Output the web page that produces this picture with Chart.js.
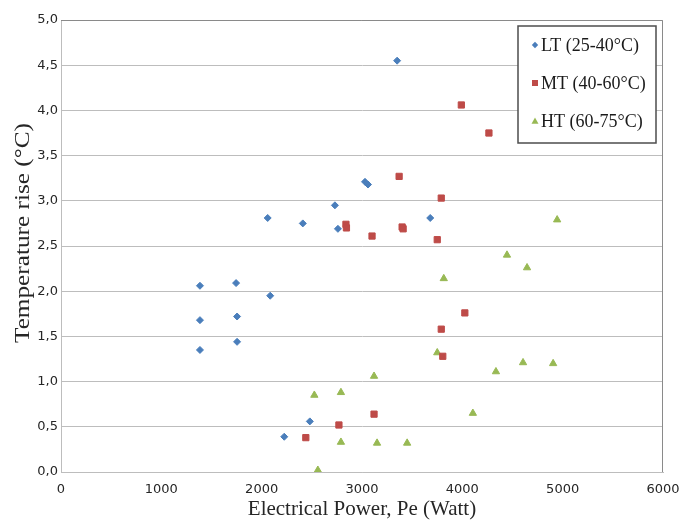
<!DOCTYPE html>
<html lang="en">

<head>
    <meta charset="UTF-8">
    <title>Temperature rise vs electrical power</title>
    <script src="https://cdn.jsdelivr.net/npm/chart.js@4.4.0/dist/chart.umd.min.js"></script>
    <style>
        html, body { margin: 0; padding: 0; background: #ffffff; }
        #wrap { width: 684px; height: 522px; }
    </style>
</head>

<body>
    <div id="wrap">
        <canvas id="tempChart" width="684" height="522"></canvas>
    </div>
    <script>
    // series values
    var ltPower = [3350, 3030, 3060, 2730, 2060, 2410, 2760, 3680, 1385, 1745, 2085, 1385, 1755, 1755, 1385, 2480, 2225];
    var ltRise  = [4.55, 3.21, 3.18, 2.95, 2.81, 2.75, 2.69, 2.81, 2.06, 2.09, 1.95, 1.68, 1.72, 1.44, 1.35, 0.56, 0.39];

    var mtPower = [3990, 4265, 3370, 3790, 2840, 2845, 3100, 3400, 3410, 3750, 4025, 3790, 3805, 3120, 2770, 2440];
    var mtRise  = [4.06, 3.75, 3.27, 3.03, 2.74, 2.70, 2.61, 2.71, 2.69, 2.57, 1.76, 1.58, 1.28, 0.64, 0.52, 0.38];

    var htPower = [4945, 4445, 4645, 3815, 3750, 4605, 4905, 4335, 3120, 2525, 2790, 4105, 2790, 3150, 3450, 2560];
    var htRise  = [2.79, 2.40, 2.26, 2.14, 1.32, 1.21, 1.20, 1.11, 1.06, 0.85, 0.88, 0.65, 0.33, 0.32, 0.32, 0.02];

    var seriesLabels = ["LT (25-40°C)", "MT (40-60°C)", "HT (60-75°C)"];
    var xTicks = [0, 1000, 2000, 3000, 4000, 5000, 6000];
    var yTicks = [0, 0.5, 1, 1.5, 2, 2.5, 3, 3.5, 4, 4.5, 5];
    var yTitle = 'Temperature rise (°C)';

    function toPoints(xs, ys) {
        return xs.map(function (x, i) { return { x: x, y: ys[i] }; });
    }

    var blue = '#4a7ebb';
    var red = '#be4b48';
    var green = '#98b954';
    var serif = '"Liberation Serif", "Times New Roman", serif';

    // legend drawn inside the plot, like the original; also plot border and y title
    var boxLegend = {
        id: 'boxLegend',
        afterDraw: function (chart) {
            var ctx = chart.ctx;
            var area = chart.chartArea;
            ctx.save();
            // plot border (top and right)
            ctx.strokeStyle = '#8a8a8a';
            ctx.lineWidth = 1;
            ctx.beginPath();
            ctx.moveTo(area.left, area.top + 0.5);
            ctx.lineTo(area.right - 0.5, area.top + 0.5);
            ctx.lineTo(area.right - 0.5, area.bottom);
            ctx.stroke();

            // y axis title, a bit stretched and sitting above centre as in the original
            ctx.save();
            ctx.font = '22px ' + serif;
            ctx.fillStyle = '#262626';
            ctx.textAlign = 'center';
            ctx.textBaseline = 'middle';
            var w = ctx.measureText(yTitle).width;
            ctx.translate(23, 233);
            ctx.rotate(-Math.PI / 2);
            ctx.scale(220 / w, 1);
            ctx.fillText(yTitle, 0, 0);
            ctx.restore();

            var bx = 518, by = 26, bw = 138, bh = 117;
            ctx.fillStyle = '#ffffff';
            ctx.fillRect(bx, by, bw, bh);
            ctx.strokeStyle = '#4d4d4d';
            ctx.lineWidth = 1.5;
            ctx.strokeRect(bx, by, bw, bh);

            var rows = [45, 83, 121];
            ctx.font = '18px ' + serif;
            ctx.textBaseline = 'middle';
            ctx.textAlign = 'left';
            chart.data.datasets.forEach(function (ds, i) {
                var mx = 535, my = rows[i];
                ctx.fillStyle = ds.backgroundColor;
                ctx.beginPath();
                if (ds.pointStyle === 'rectRot') {
                    ctx.moveTo(mx, my - 3.2);
                    ctx.lineTo(mx + 3.2, my);
                    ctx.lineTo(mx, my + 3.2);
                    ctx.lineTo(mx - 3.2, my);
                } else if (ds.pointStyle === 'rect') {
                    ctx.rect(mx - 3, my - 3, 6, 6);
                } else {
                    ctx.moveTo(mx, my - 3.5);
                    ctx.lineTo(mx + 3.5, my + 2.8);
                    ctx.lineTo(mx - 3.5, my + 2.8);
                }
                ctx.closePath();
                ctx.fill();
                ctx.fillStyle = '#1a1a1a';
                ctx.fillText(ds.label, 541, my + 1);
            });
            ctx.restore();
        }
    };

    var ctx = document.getElementById('tempChart').getContext('2d');
    var chart = new Chart(ctx, {
        type: 'scatter',
        data: {
            datasets: [{
                label: seriesLabels[0],
                data: toPoints(ltPower, ltRise),
                pointStyle: 'rectRot',
                backgroundColor: blue,
                borderColor: blue,
                borderWidth: 1,
                pointRadius: 3.5
            }, {
                label: seriesLabels[1],
                data: toPoints(mtPower, mtRise),
                pointStyle: 'rect',
                backgroundColor: red,
                borderColor: red,
                borderWidth: 1,
                pointRadius: 4.4
            }, {
                label: seriesLabels[2],
                data: toPoints(htPower, htRise),
                pointStyle: 'triangle',
                backgroundColor: green,
                borderColor: green,
                borderWidth: 1,
                pointRadius: 4.2
            }]
        },
        options: {
            responsive: false,
            animation: false,
            devicePixelRatio: 1,
            layout: {
                padding: { left: 0, right: 21, top: 20, bottom: 0 }
            },
            plugins: {
                legend: { display: false },
                tooltip: { enabled: false }
            },
            scales: {
                x: {
                    type: 'linear',
                    min: 0,
                    max: 6000,
                    afterFit: function (scale) { scale.height = 50; },
                    afterBuildTicks: function (scale) {
                        scale.ticks = xTicks.map(function (v) { return { value: v }; });
                    },
                    grid: { display: false, drawTicks: true, tickLength: 7 },
                    border: { display: true, color: '#bdbdbd', width: 1 },
                    ticks: {
                        padding: 3,
                        color: '#262626',
                        font: { family: '"DejaVu Sans", Verdana, sans-serif', size: 13 },
                        callback: function (value) { return String(value); }
                    },
                    title: {
                        display: true,
                        text: 'Electrical Power, Pe (Watt)',
                        color: '#262626',
                        font: { family: serif, size: 21 },
                        padding: { top: 0, bottom: 0 }
                    }
                },
                y: {
                    type: 'linear',
                    min: 0,
                    max: 5,
                    afterFit: function (scale) { scale.width = 61; },
                    afterBuildTicks: function (scale) {
                        scale.ticks = yTicks.map(function (v) { return { value: v }; });
                    },
                    grid: { color: '#bdbdbd', lineWidth: 1, drawTicks: false },
                    border: { display: true, color: '#bdbdbd', width: 1 },
                    ticks: {
                        padding: 3,
                        color: '#262626',
                        font: { family: '"DejaVu Sans", Verdana, sans-serif', size: 13 },
                        callback: function (value) { return value.toFixed(1).replace('.', ','); }
                    },
                    title: { display: false }
                }
            }
        },
        plugins: [boxLegend]
    });
    </script>
</body>

</html>
